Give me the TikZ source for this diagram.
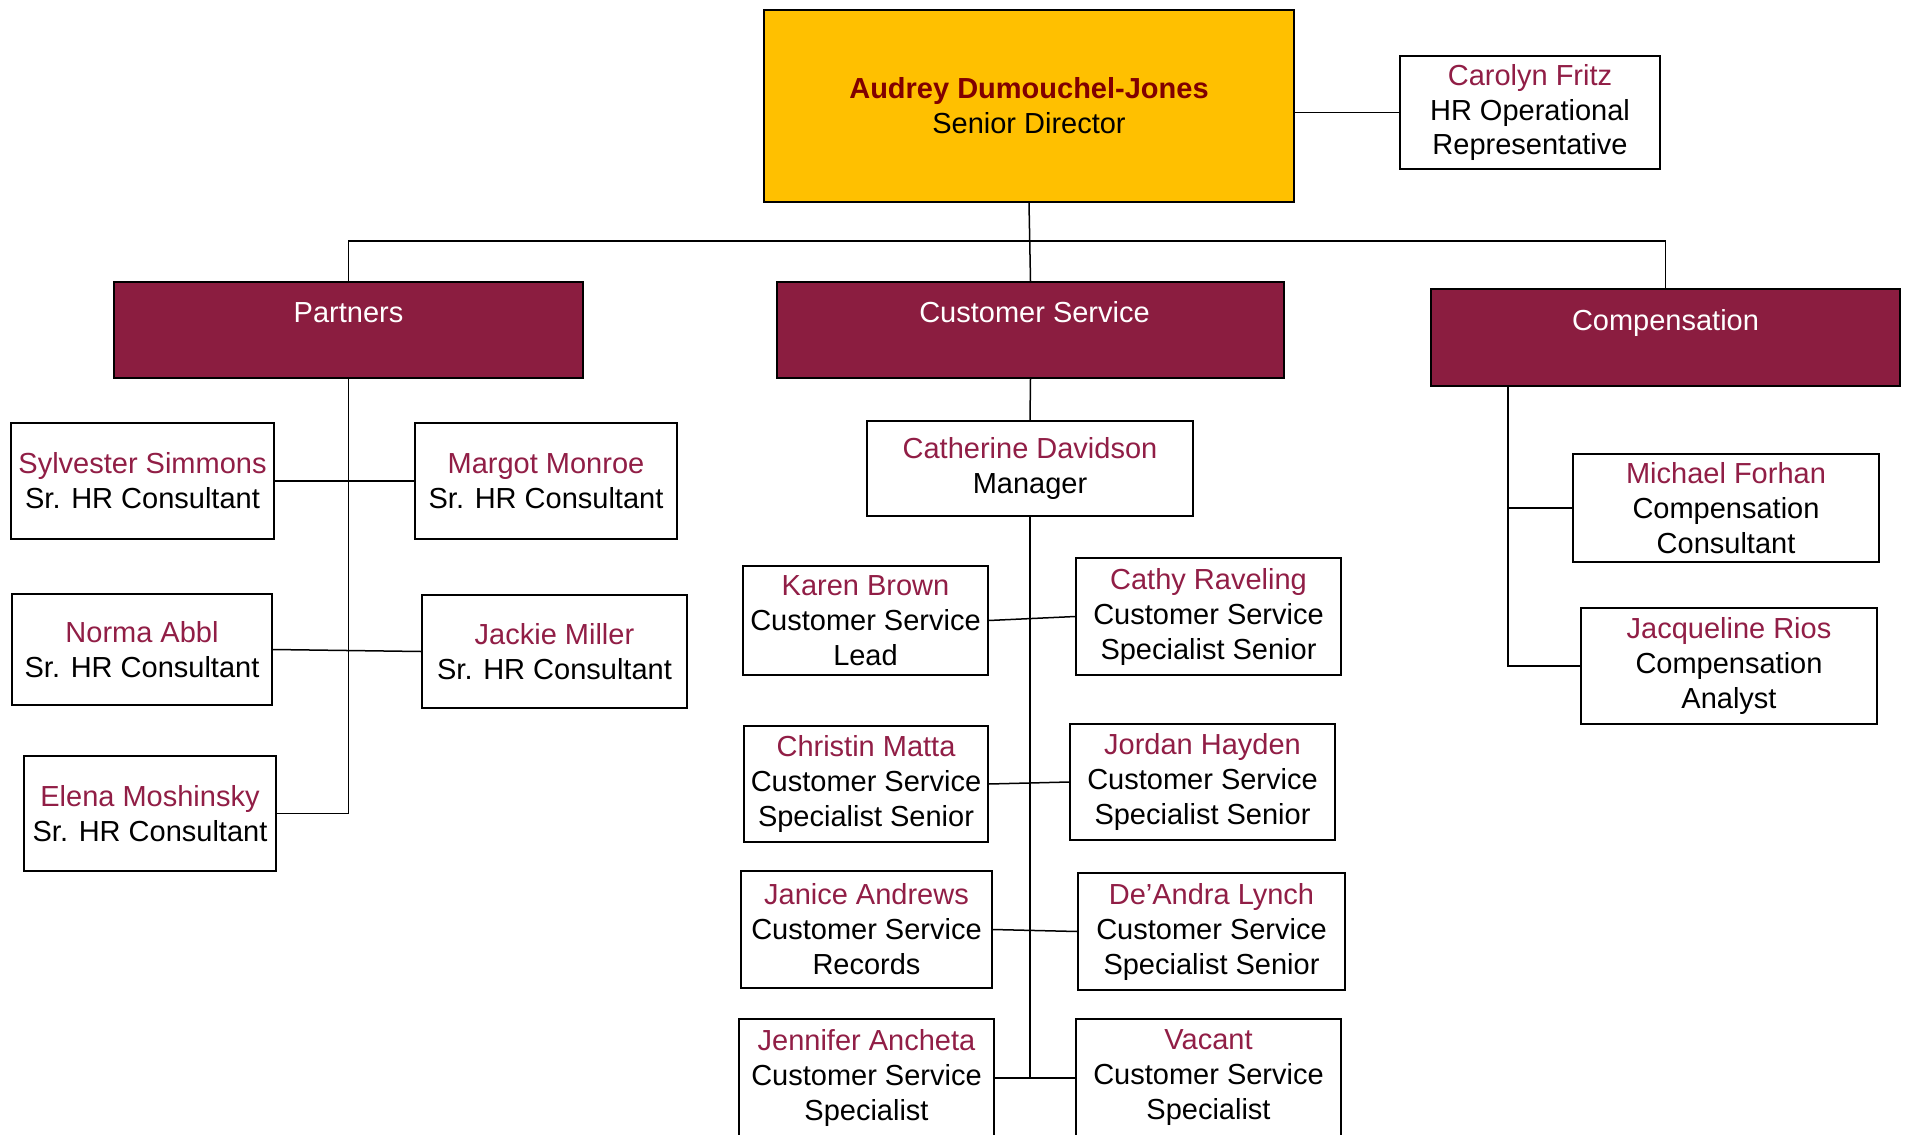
\documentclass[tikz,border=0pt]{standalone}
\usepackage{fontspec}
\setmainfont{Liberation Sans}
\usepackage{xcolor}
\usetikzlibrary{positioning}

\definecolor{deptfill}{RGB}{139,29,64}
\definecolor{namecol}{RGB}{145,30,70}
\definecolor{bossred}{RGB}{128,0,0}
\definecolor{bossgold}{RGB}{255,192,0}
\newcommand{\who}[1]{\textcolor{namecol}{#1}}

\begin{document}
\begin{tikzpicture}[x=1pt,y=1pt,yscale=-1,xscale=1,
  every node/.style={font=\fontsize{29}{35}\selectfont},
  box/.style={draw, line width=1.6pt, fill=white, align=center, inner sep=0pt},
  dept/.style={box, fill=deptfill, text=white},
  link/.style={line width=1.5pt}]
\path[use as bounding box, clip] (0,0) rectangle (1907,1135);

%Top level
\node[box, fill=bossgold, minimum width=530pt, minimum height=192pt] (boss) at (1029,106)
  {\textcolor{bossred}{\bfseries Audrey Dumouchel-Jones}\\Senior Director};
\node[box, minimum width=260pt, minimum height=113pt] (carolyn) at (1530,112.5)
  {\who{Carolyn Fritz}\\HR Operational\\Representative};

%Departments
\node[dept, minimum width=469pt, minimum height=96pt] (partners) at (348.5,330) {Partners\\[-10pt]\strut};
\node[dept, minimum width=507pt, minimum height=96pt] (custserv) at (1030.5,330) {\hspace*{8pt}Customer Service\\[-10pt]\strut};
\node[dept, minimum width=469pt, minimum height=97pt] (comp) at (1665.5,337.5) {Compensation\\[-10pt]\strut};

%Partners
\node[box, minimum width=263pt, minimum height=116pt] (sylvester) at (142.5,481) {\who{Sylvester Simmons}\\Sr. HR Consultant};
\node[box, minimum width=262pt, minimum height=116pt] (margot) at (546,481) {\who{Margot Monroe}\\Sr. HR Consultant};
\node[box, minimum width=260pt, minimum height=111pt] (norma) at (142,649.5) {\who{Norma Abbl}\\Sr. HR Consultant};
\node[box, minimum width=265pt, minimum height=113pt] (jackie) at (554.5,651.5) {\who{Jackie Miller}\\Sr. HR Consultant};
\node[box, minimum width=252pt, minimum height=115pt] (elena) at (150,813.5) {\who{Elena Moshinsky}\\Sr. HR Consultant};

%Customer Service
\node[box, minimum width=326pt, minimum height=95pt] (catherine) at (1030,468.5) {\who{Catherine Davidson}\\Manager};
\node[box, minimum width=245pt, minimum height=109pt] (karen) at (865.5,620.5) {\who{Karen Brown}\\Customer Service\\Lead};
\node[box, minimum width=265pt, minimum height=117pt] (cathy) at (1208.5,616.5) {\who{Cathy Raveling}\\Customer Service\\Specialist Senior};
\node[box, minimum width=244pt, minimum height=116pt] (christin) at (866,784) {\who{Christin Matta}\\Customer Service\\Specialist Senior};
\node[box, minimum width=265pt, minimum height=116pt] (jordan) at (1202.5,782) {\who{Jordan Hayden}\\Customer Service\\Specialist Senior};
\node[box, minimum width=251pt, minimum height=117pt] (janice) at (866.5,929.5) {\who{Janice Andrews}\\Customer Service\\Records};
\node[box, minimum width=267pt, minimum height=117pt] (deandra) at (1211.5,931.5) {\who{De’Andra Lynch}\\Customer Service\\Specialist Senior};
\node[box, minimum width=255pt, minimum height=118pt] (jennifer) at (866.5,1078) {\who{Jennifer Ancheta}\\Customer Service\\Specialist};
\node[box, minimum width=265pt, minimum height=118pt] (vacant) at (1208.5,1078) {\who{Vacant}\\Customer Service\\Specialist};

%Compensation
\node[box, minimum width=306pt, minimum height=108pt] (michael) at (1726,508) {\who{Michael Forhan}\\Compensation\\Consultant};
\node[box, minimum width=296pt, minimum height=116pt] (jacqueline) at (1729,666) {\who{Jacqueline Rios}\\Compensation\\Analyst};

%Connectors
\draw[link] (boss.east |- carolyn.west) -- (carolyn.west);
\draw[link] (boss.south) -- (custserv.north);
\draw[link] (partners.north) -- ++(0,-40) -| (comp.north);

\coordinate (pend) at (partners.south |- elena.east);
\draw[link] (partners.south) -- (pend);
\draw[link] (sylvester.east) -- (margot.west);
\draw[link] (norma.east) -- (jackie.west);
\draw[link] (elena.east) -- (pend);

\coordinate (cend) at (catherine.south |- vacant.west);
\draw[link] (custserv.south) -- (catherine.north);
\draw[link] (catherine.south) -- (cend);
\foreach \l/\r in {karen/cathy, christin/jordan, janice/deandra, jennifer/vacant}
  \draw[link] (\l.east) -- (\r.west);

\coordinate (ctop) at (1508,386);
\draw[link] (ctop) |- (jacqueline.west);
\draw[link] (ctop |- michael.west) -- (michael.west);

\end{tikzpicture}
\end{document}
